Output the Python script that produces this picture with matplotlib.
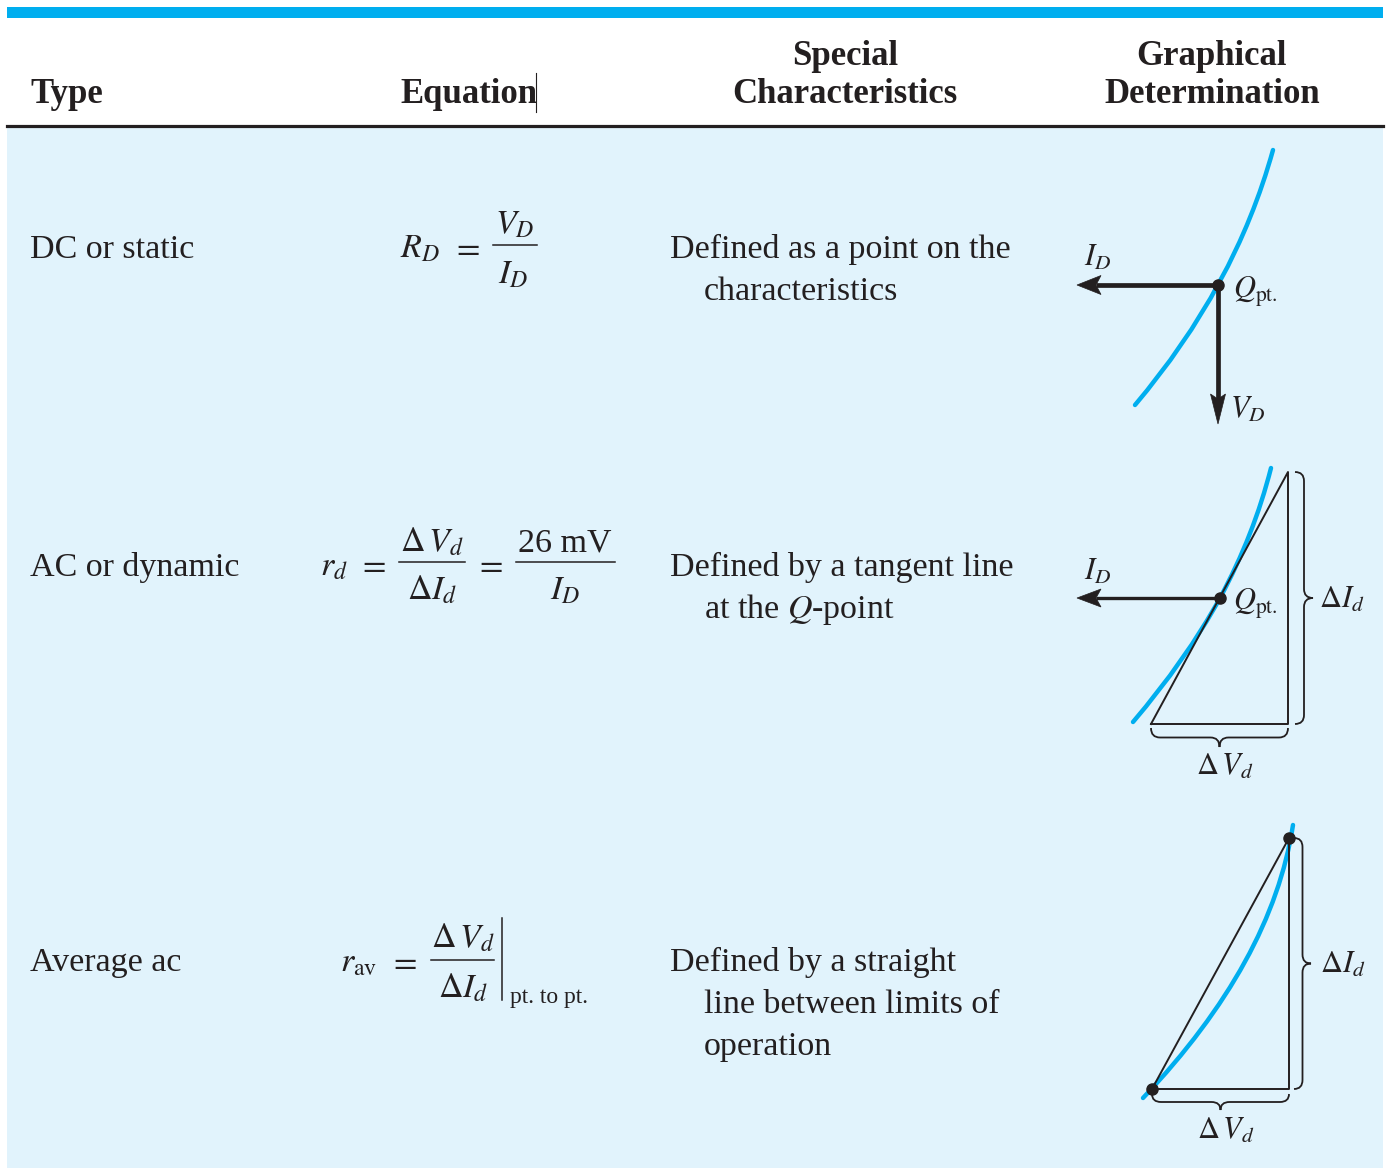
import numpy as np
import matplotlib
matplotlib.use('Agg')
import matplotlib.pyplot as plt
from matplotlib.path import Path
from matplotlib.patches import PathPatch, Rectangle, Polygon

plt.rcParams['font.family'] = ['Liberation Serif', 'DejaVu Serif']
plt.rcParams['mathtext.fontset'] = 'stix'

INK = '#231F20'
CYAN = '#00AEEF'
PALE = '#E1F3FC'

# table text
headers = ['Type', 'Equation', 'Special\nCharacteristics', 'Graphical\nDetermination']
header_x = [30, 400, 845, 1212]
header_ha = ['left', 'left', 'center', 'center']

row_types = ['DC or static', 'AC or dynamic', 'Average ac']
row_base = [258, 576, 971]
char_lines = [['Defined as a point on the', 'characteristics'],
              ['Defined by a tangent line', 'at the $Q$-point'],
              ['Defined by a straight', 'line between limits of', 'operation']]

# diagram geometry (pixel coords)
dc_curve = [(1135, 405), (1235, 287), (1273, 150)]
dc_q = (1218, 285)
dc_id_tip = (1077, 285)
dc_vd_tip = (1218, 424)

ac_curve = [(1133, 722), (1186, 660), (1220, 598), (1254, 535), (1271, 468)]
ac_q = (1220, 598)
ac_tri = [(1151, 724), (1288, 472), (1288, 724)]
ac_id_tip = (1077, 598)

av_curve = [(1143, 1098), (1272, 962), (1293, 825)]
av_lo = (1152, 1089)
av_hi = (1289, 838)

fig = plt.figure(figsize=(13.89, 11.68), dpi=100)
ax = fig.add_axes([0, 0, 1, 1])
ax.set_xlim(0, 1389)
ax.set_ylim(1168, 0)
ax.axis('off')

# frame
ax.add_patch(Rectangle((7, 7), 1376, 11, color=CYAN, lw=0))
ax.add_patch(Rectangle((7, 127), 1376, 1041, color=PALE, lw=0))
ax.plot([7, 1383], [126, 126], color=INK, lw=2.3)
ax.plot([536, 536], [73, 112], color=INK, lw=0.8)

for h, x, ha in zip(headers, header_x, header_ha):
    ax.text(x, 103, h, ha=ha, va='baseline', fontsize=25, fontweight='bold',
            color=INK, linespacing=1.2)

for t, b, lines in zip(row_types, row_base, char_lines):
    ax.text(30, b, t, fontsize=24.5, va='baseline', color=INK)
    for i, s in enumerate(lines):
        ax.text(670 if i == 0 else 704, b + 42 * i, s, fontsize=24.5,
                va='baseline', color=INK)


def put(x, y, s, ha='left', fs=24.5):
    ax.text(x, y, s, ha=ha, va='baseline', fontsize=fs, color=INK)


def bar(x0, x1, y):
    ax.plot([x0, x1], [y, y], color=INK, lw=1.1)


# equations
put(400, 258, r'$R_D$')
put(466, 257, r'$=$', 'center')
put(515, 234, r'$V_D$', 'center')
bar(493, 537, 245)
put(513, 284, r'$I_D$', 'center')

put(320, 576, r'$r_d$')
put(372, 574, r'$=$', 'center')
put(432, 551, r'$\Delta\,V_d$', 'center')
bar(399, 465, 562)
put(432, 600, r'$\Delta I_d$', 'center')
put(489, 574, r'$=$', 'center')
put(565, 551, '26 mV', 'center')
bar(516, 615, 562)
put(565, 600, r'$I_D$', 'center')

put(340, 971, r'$r_{\mathrm{av}}$')
put(403, 971, r'$=$', 'center')
put(463, 947, r'$\Delta\,V_d$', 'center')
bar(431, 494, 960)
put(463, 997, r'$\Delta I_d$', 'center')
ax.plot([502, 502], [918, 1000], color=INK, lw=1.1)
put(510, 1003, 'pt. to pt.', fs=17)


def curve(pts):
    codes = [Path.MOVETO] + [Path.CURVE3] * (len(pts) - 1)
    ax.add_patch(PathPatch(Path(pts, codes), fc='none', ec=CYAN, lw=3.2,
                           capstyle='round'))


def arrow(p0, p1, lw, hl, hw, notch=5):
    # shaft plus a stealth-style head
    p0, p1 = np.array(p0, float), np.array(p1, float)
    d = (p1 - p0) / np.hypot(*(p1 - p0))
    n = np.array([-d[1], d[0]])
    base = p1 - d * hl
    ax.plot([p0[0], base[0] + d[0] * notch], [p0[1], base[1] + d[1] * notch],
            color=INK, lw=lw, solid_capstyle='butt')
    head = [p1, base + n * hw, base + d * notch, base - n * hw]
    ax.add_patch(Polygon(head, closed=True, fc=INK, ec=INK, lw=0.5))


def dot(p, ms=8):
    ax.plot(*p, 'o', color=INK, ms=ms, zorder=5)


def brace(a0, a1, pos, w, vertical):
    r = 9
    m = (a0 + a1) / 2
    s = pos + w / 2
    pts = [(pos, a0), (s, a0), (s, a0 + r), (s, m - r), (s, m), (pos + w, m),
           (s, m), (s, m + r), (s, a1 - r), (s, a1), (pos, a1)]
    C3, LT = Path.CURVE3, Path.LINETO
    codes = [Path.MOVETO, C3, C3, LT, C3, C3, C3, C3, LT, C3, C3]
    if not vertical:
        pts = [(a, p) for p, a in pts]
    ax.add_patch(PathPatch(Path(pts, codes), fc='none', ec=INK, lw=1.3))


# DC diagram
curve(dc_curve)
arrow(dc_q, dc_id_tip, 3.4, 24, 9.5)
arrow(dc_q, dc_vd_tip, 3.4, 30, 7.5)
dot(dc_q)
put(1084, 266, r'$I_D$', fs=22)
put(1233, 298, r'$Q_{\mathrm{pt.}}$', fs=22)
put(1230, 418, r'$V_D$', fs=22)

# AC diagram
curve(ac_curve)
tri = ac_tri + [ac_tri[0]]
ax.plot([p[0] for p in tri], [p[1] for p in tri], color=INK, lw=1.4)
arrow(ac_q, ac_id_tip, 2.4, 24, 9)
dot(ac_q)
put(1084, 580, r'$I_D$', fs=22)
put(1233, 610, r'$Q_{\mathrm{pt.}}$', fs=22)
brace(ac_tri[1][1], ac_tri[2][1], 1295, 18, True)
brace(ac_tri[0][0], ac_tri[2][0], 728, 19, False)
put(1319, 608, r'$\Delta I_d$', fs=22)
put(1225, 775, r'$\Delta\,V_d$', 'center', fs=22)

# average diagram
ax.plot([av_lo[0], av_hi[0], av_hi[0], av_lo[0]],
        [av_lo[1], av_hi[1], av_lo[1], av_lo[1]], color=INK, lw=1.4)
curve(av_curve)
dot(av_lo)
dot(av_hi)
brace(av_hi[1], av_lo[1], 1294, 17, True)
brace(av_lo[0], av_hi[0], 1094, 16, False)
put(1320, 973, r'$\Delta I_d$', fs=22)
put(1226, 1139, r'$\Delta\,V_d$', 'center', fs=22)

fig.savefig('out.png', dpi=100)
